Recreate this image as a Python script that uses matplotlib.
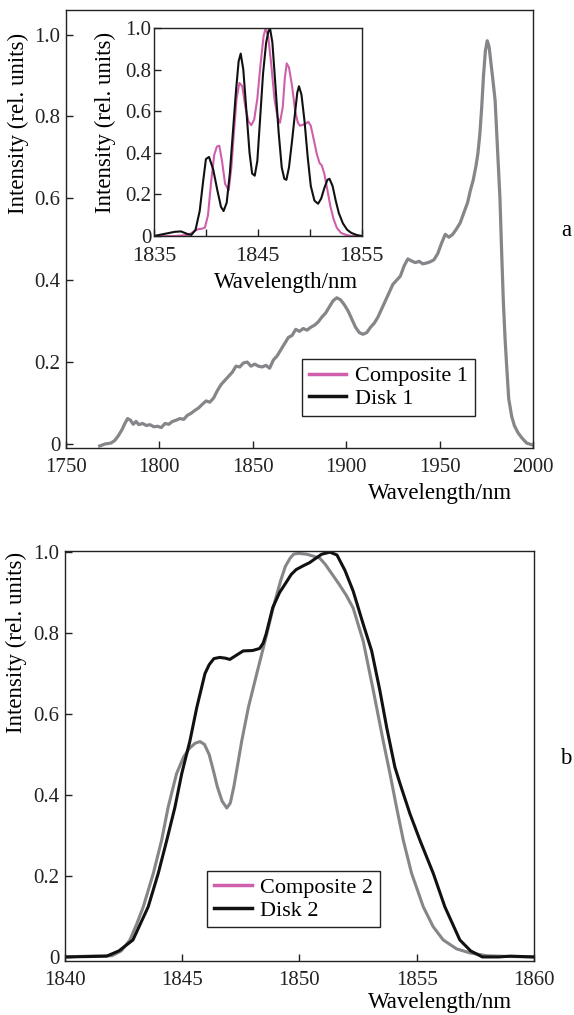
import matplotlib
matplotlib.use("Agg")
import matplotlib.pyplot as plt
from matplotlib.lines import Line2D

plt.rcParams['font.family'] = ['Liberation Serif', 'DejaVu Serif']
plt.rcParams['font.size'] = 15
plt.rcParams['lines.solid_joinstyle'] = 'round'

# ---------------- data ----------------
# Panel a, main broad spectrum (grey)
wl_a = [1768, 1771, 1774, 1776, 1778, 1780, 1781.5, 1783, 1784.5, 1786, 1787.5, 1789,
        1791, 1793, 1795, 1797, 1799, 1801, 1803, 1805, 1807, 1809, 1811, 1813,
        1815, 1817, 1819, 1821, 1823, 1825, 1827, 1829, 1831, 1833, 1835, 1837,
        1839, 1841, 1843, 1845, 1847, 1849, 1851, 1853, 1855, 1857, 1859, 1861,
        1863, 1865, 1867, 1869, 1871, 1873, 1875, 1877, 1879, 1881, 1883, 1885,
        1887, 1889, 1891, 1893, 1895, 1897, 1899, 1901, 1903, 1905, 1907, 1909,
        1911, 1913, 1915, 1917, 1919, 1921, 1923, 1925, 1927, 1929, 1931, 1933,
        1935, 1937, 1939, 1941, 1943, 1945, 1947, 1949, 1951, 1953, 1955, 1957,
        1959, 1961, 1963, 1965, 1966.5, 1968, 1969.5, 1970.5, 1971.5, 1972.5, 1973.5,
        1974.5, 1975.5, 1976.5, 1977.5, 1978.5, 1979.7, 1981, 1982.3, 1983.2, 1984.1,
        1985, 1985.9, 1987, 1988.6, 1990, 1992, 1994, 1996.6, 1998, 2000]
int_a = [-0.005, 0.0, 0.002, 0.008, 0.02, 0.035, 0.05, 0.062, 0.058, 0.048, 0.055, 0.047,
         0.05, 0.045, 0.047, 0.042, 0.043, 0.04, 0.05, 0.048, 0.055, 0.058, 0.062, 0.06,
         0.07, 0.075, 0.082, 0.088, 0.097, 0.105, 0.102, 0.112, 0.13, 0.145, 0.155, 0.165,
         0.175, 0.19, 0.188, 0.198, 0.2, 0.19, 0.195, 0.19, 0.188, 0.192, 0.185, 0.205,
         0.215, 0.23, 0.245, 0.26, 0.265, 0.28, 0.275, 0.282, 0.278, 0.285, 0.29, 0.298,
         0.31, 0.32, 0.335, 0.35, 0.357, 0.352, 0.34, 0.325, 0.305, 0.285, 0.272, 0.268,
         0.272, 0.285, 0.295, 0.31, 0.33, 0.35, 0.37, 0.39, 0.4, 0.41, 0.435, 0.452,
         0.447, 0.443, 0.446, 0.44, 0.442, 0.445, 0.45, 0.465, 0.49, 0.512, 0.505, 0.512,
         0.525, 0.54, 0.565, 0.59, 0.62, 0.645, 0.68, 0.71, 0.755, 0.82, 0.9,
         0.96, 0.985, 0.97, 0.93, 0.89, 0.84, 0.72, 0.6, 0.47, 0.35,
         0.26, 0.19, 0.11, 0.067, 0.045, 0.027, 0.015, 0.002, 0.0, -0.003]

# Panel a, inset
wl_in_disk1 = [1835, 1836, 1837, 1837.6, 1838.2, 1838.6, 1839.0, 1839.4, 1839.7, 1840.0, 1840.3,
               1840.7, 1841.1, 1841.45, 1841.7, 1842.0, 1842.3, 1842.6, 1842.9, 1843.15, 1843.35,
               1843.6, 1843.9, 1844.2, 1844.45, 1844.7, 1844.95, 1845.2, 1845.5, 1845.8, 1846.0,
               1846.17, 1846.4, 1846.7, 1847.0, 1847.3, 1847.55, 1847.75, 1848.0, 1848.3,
               1848.6, 1848.8, 1848.96, 1849.2, 1849.5, 1849.8, 1850.1, 1850.45, 1850.8,
               1851.1, 1851.4, 1851.7, 1851.9, 1852.2, 1852.5, 1852.8, 1853.2, 1853.6,
               1854.0, 1854.5, 1855]
int_in_disk1 = [0.0, 0.01, 0.02, 0.022, 0.01, 0.005, 0.03, 0.12, 0.25, 0.37, 0.38,
                0.32, 0.22, 0.14, 0.12, 0.16, 0.3, 0.5, 0.7, 0.84, 0.877,
                0.8, 0.6, 0.4, 0.3, 0.29, 0.36, 0.55, 0.78, 0.93, 0.98,
                1.0, 0.93, 0.72, 0.5, 0.33, 0.275, 0.27, 0.33, 0.46,
                0.6, 0.69, 0.72, 0.68, 0.55, 0.38, 0.24, 0.17, 0.155,
                0.18, 0.23, 0.27, 0.275, 0.24, 0.17, 0.11, 0.06, 0.03,
                0.015, 0.005, 0.0]

wl_in_comp1 = [1835, 1837, 1838.3, 1838.8, 1839.2, 1839.6, 1839.9, 1840.2, 1840.5, 1840.8,
               1841.05, 1841.29, 1841.55, 1841.85, 1842.19, 1842.45, 1842.7, 1842.95, 1843.22,
               1843.5, 1843.8, 1844.1, 1844.37, 1844.65, 1844.95, 1845.25, 1845.55, 1845.75,
               1846.0, 1846.3, 1846.6, 1846.9, 1847.13, 1847.4, 1847.6, 1847.78, 1848.0,
               1848.3, 1848.6, 1848.85, 1849.06, 1849.35, 1849.6, 1849.86, 1850.1, 1850.4,
               1850.7, 1850.95, 1851.15, 1851.4, 1851.7, 1852.0, 1852.3, 1852.6, 1853.0,
               1853.5, 1854, 1855]
int_in_comp1 = [0.0, 0.0, 0.005, 0.02, 0.032, 0.035, 0.04, 0.1, 0.26, 0.39,
                0.43, 0.434, 0.36, 0.25, 0.22, 0.33, 0.5, 0.66, 0.736,
                0.72, 0.62, 0.55, 0.533, 0.56, 0.66, 0.82, 0.96, 1.0,
                0.96, 0.82, 0.66, 0.57, 0.544, 0.62, 0.76, 0.83, 0.81,
                0.72, 0.6, 0.545, 0.53, 0.535, 0.54, 0.549, 0.53, 0.46,
                0.39, 0.35, 0.34, 0.3, 0.22, 0.14, 0.08, 0.04, 0.015,
                0.005, 0.0, 0.0]

# Panel b
wl_b_comp2 = [1840, 1841, 1842, 1842.4, 1842.77, 1843.05, 1843.34, 1843.77, 1844.12, 1844.4,
              1844.76, 1845.05, 1845.3, 1845.55, 1845.76, 1845.95, 1846.15, 1846.33, 1846.5,
              1846.7, 1846.9, 1847.05, 1847.2, 1847.35, 1847.54, 1847.82, 1848.18, 1848.53,
              1848.88, 1849.2, 1849.4, 1849.6, 1849.75, 1849.95, 1850.3, 1850.6, 1850.87,
              1851.1, 1851.4, 1851.7, 1852.0, 1852.29, 1852.72, 1853.15, 1853.57, 1853.86,
              1854.14, 1854.43, 1854.78, 1855.28, 1855.7, 1856.13, 1856.7, 1857.27, 1858,
              1859, 1860]
int_b_comp2 = [0.0, 0.002, 0.003, 0.015, 0.042, 0.08, 0.124, 0.207, 0.288, 0.37,
               0.453, 0.493, 0.515, 0.528, 0.532, 0.525, 0.5, 0.46, 0.42,
               0.385, 0.368, 0.38, 0.42, 0.47, 0.534, 0.616, 0.70, 0.78,
               0.863, 0.93, 0.965, 0.985, 0.995, 0.997, 0.995, 0.99, 0.985,
               0.97, 0.945, 0.92, 0.893, 0.862, 0.78, 0.658, 0.534, 0.453,
               0.37, 0.288, 0.207, 0.124, 0.075, 0.042, 0.02, 0.01, 0.003,
               0.001, 0.0]

wl_b_disk2 = [1840, 1841, 1841.78, 1842.3, 1842.9, 1843.55, 1843.98, 1844.34, 1844.69, 1844.98,
              1845.33, 1845.62, 1845.97, 1846.15, 1846.35, 1846.6, 1846.85, 1847.03, 1847.3,
              1847.6, 1848.0, 1848.3, 1848.45, 1848.58, 1848.86, 1849.15, 1849.43, 1849.65,
              1849.86, 1850.15, 1850.43, 1850.7, 1850.95, 1851.3, 1851.6, 1851.94, 1852.29,
              1852.72, 1853.08, 1853.43, 1853.72, 1854.07, 1854.29, 1854.71, 1855.14, 1855.71,
              1856.2, 1856.84, 1857.3, 1857.8, 1858.5, 1859, 1860]
int_b_disk2 = [0.0, 0.001, 0.002, 0.015, 0.042, 0.124, 0.207, 0.288, 0.37, 0.453,
               0.534, 0.616, 0.70, 0.722, 0.737, 0.74, 0.738, 0.735, 0.745,
               0.756, 0.757, 0.762, 0.775, 0.798, 0.863, 0.9, 0.925, 0.945,
               0.957, 0.966, 0.974, 0.985, 0.995, 1.0, 0.993, 0.955, 0.904,
               0.822, 0.756, 0.658, 0.567, 0.469, 0.428, 0.354, 0.288, 0.206,
               0.124, 0.042, 0.015, 0.0, 0.0, 0.002, 0.0]

labels_a = ['Composite 1', 'Disk 1']
labels_b = ['Composite 2', 'Disk 2']
ylab = 'Intensity (rel. units)'
xlab = 'Wavelength/nm'

# ---------------- style ----------------
GREY = '#85858a'
PINK = '#cf5fab'
BLACK = '#111111'
FRAME = '#222222'
TICK_FS = 15
LAB_FS = 16.5
LEG_FS = 16


def style_axes(ax, lw=1.0):
    for s in ax.spines.values():
        s.set_color(FRAME)
        s.set_linewidth(lw)
    ax.tick_params(direction='in', length=5, width=1, colors=FRAME, labelcolor='#222222',
                   labelsize=TICK_FS, pad=4)
    ax.tick_params(axis='x', pad=7)


fig = plt.figure(figsize=(5.74, 10.15), dpi=100)

# Panel a main
ax1 = fig.add_axes([0.115, 0.5586, 0.8136, 0.4315])
ax1.plot(wl_a, int_a, color=GREY, lw=2.3)
ax1.set_xlim(1750, 2000)
ax1.set_ylim(-0.01, 1.06)
ax1.set_xticks([1750, 1800, 1850, 1900, 1950, 2000])
ax1.set_yticks([0, 0.2, 0.4, 0.6, 0.8, 1.0])
ax1.set_yticklabels(['0', '0.2', '0.4', '0.6', '0.8', '1.0'])
style_axes(ax1)
ax1.set_ylabel(ylab, fontsize=LAB_FS)
ax1.yaxis.label.set_va('center')
ax1.yaxis.set_label_coords(-0.103, 0.742)
ax1.set_xlabel(xlab, fontsize=LAB_FS)
ax1.xaxis.label.set_va('center')
ax1.xaxis.set_label_coords(0.80, -0.103)
h_a = [Line2D([], [], color=PINK, lw=2.5), Line2D([], [], color=BLACK, lw=2.5)]
leg1 = ax1.legend(h_a, labels_a, loc='upper left', bbox_to_anchor=(0.505, 0.203),
                  borderaxespad=0, fancybox=False, edgecolor=FRAME, framealpha=1,
                  fontsize=LEG_FS, handlelength=1.7, handletextpad=0.4, labelspacing=0.1,
                  borderpad=0.3)
leg1.get_frame().set_linewidth(1.0)

# Inset
axi = fig.add_axes([0.2683, 0.7675, 0.3618, 0.2049])
axi.plot(wl_in_comp1, int_in_comp1, color=PINK, lw=1.5)
axi.plot(wl_in_disk1, int_in_disk1, color=BLACK, lw=1.5)
axi.set_xlim(1835, 1855)
axi.set_ylim(0, 1.0)
axi.set_xticks([1835, 1840, 1845, 1850, 1855])
axi.set_xticklabels(['1835', '', '1845', '', '1855'])
axi.set_yticks([0, 0.2, 0.4, 0.6, 0.8, 1.0])
axi.set_yticklabels(['0', '0.2', '0.4', '0.6', '0.8', '1.0'])
style_axes(axi)
axi.tick_params(axis='y', pad=2)
axi.tick_params(axis='x', pad=8, labelsize=16)
axi.set_ylabel(ylab, fontsize=LAB_FS)
axi.yaxis.label.set_va('center')
axi.yaxis.set_label_coords(-0.236, 0.548)
axi.set_xlabel(xlab, fontsize=LAB_FS)
axi.xaxis.label.set_va('center')
axi.xaxis.set_label_coords(0.635, -0.226)

fig.text(566 / 574, 1 - 230 / 1015, 'a', fontsize=LAB_FS, ha='center', va='center')

# Panel b
ax2 = fig.add_axes([0.1132, 0.0532, 0.817, 0.404])
ax2.plot(wl_b_comp2, int_b_comp2, color=GREY, lw=2.2)
ax2.plot(wl_b_disk2, int_b_disk2, color=BLACK, lw=2.2)
ax2.set_xlim(1840, 1860)
ax2.set_ylim(-0.01, 1.003)
ax2.set_xticks([1840, 1845, 1850, 1855, 1860])
ax2.set_yticks([0, 0.2, 0.4, 0.6, 0.8, 1.0])
ax2.set_yticklabels(['0', '0.2', '0.4', '0.6', '0.8', '1.0'])
style_axes(ax2)
ax2.set_ylabel(ylab, fontsize=LAB_FS)
ax2.yaxis.label.set_va('center')
ax2.yaxis.set_label_coords(-0.103, 0.776)
ax2.set_xlabel(xlab, fontsize=LAB_FS)
ax2.xaxis.label.set_va('center')
ax2.xaxis.set_label_coords(0.80, -0.102)
h_b = [Line2D([], [], color=PINK, lw=2.5), Line2D([], [], color=BLACK, lw=2.5)]
leg2 = ax2.legend(h_b, labels_b, loc='upper left', bbox_to_anchor=(0.303, 0.22),
                  borderaxespad=0, fancybox=False, edgecolor=FRAME, framealpha=1,
                  fontsize=LEG_FS, handlelength=1.7, handletextpad=0.4, labelspacing=0.1,
                  borderpad=0.3)
leg2.get_frame().set_linewidth(1.0)

fig.text(566 / 574, 1 - 758 / 1015, 'b', fontsize=LAB_FS, ha='center', va='center')

fig.savefig('out.png', dpi=100)
